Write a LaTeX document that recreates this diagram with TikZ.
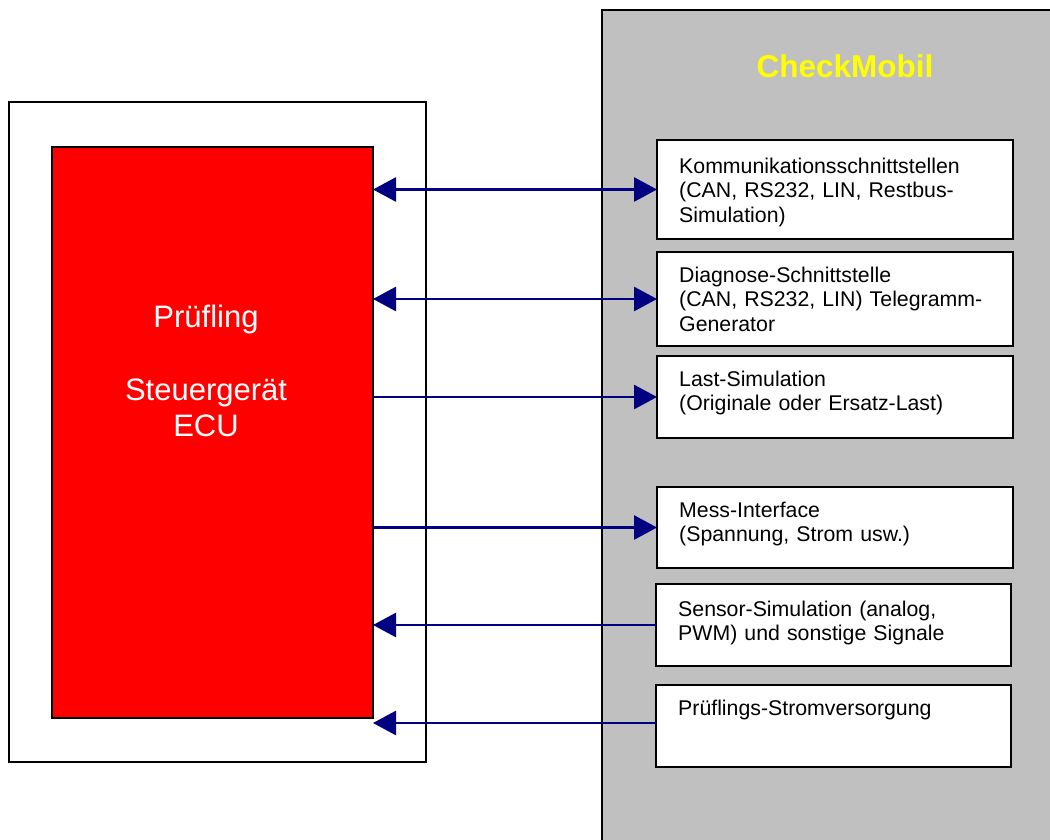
\documentclass[tikz,border=0pt]{standalone}
\usepackage{fontspec}
\setmainfont{Liberation Sans}
\usetikzlibrary{arrows.meta}
\definecolor{navyarrow}{RGB}{0,0,128}
\definecolor{panelgray}{RGB}{192,192,192}
\definecolor{ecured}{RGB}{255,0,0}
\definecolor{cmyellow}{RGB}{255,255,0}
\tikzset{>={Triangle[length=23pt,width=24pt]}}
\begin{document}
\begin{tikzpicture}[x=1pt,y=-1pt,
  modbox/.style={draw=black,line width=1.5pt,fill=white,minimum width=#1,inner sep=0pt,outer sep=0pt,anchor=north west},
  lbl/.style={anchor=base west,inner sep=0pt,text width=340pt,align=left,font=\fontsize{21.3}{24.5}\selectfont},
  link/.style={draw=navyarrow,line width=2.8pt}
]
\useasboundingbox (0,0) rectangle (1050,839);
% CheckMobil panel
\node[draw=black,line width=2pt,fill=panelgray,minimum width=470pt,minimum height=850pt,inner sep=0pt,outer sep=0pt,anchor=north west] (panel) at (602,10) {};
\node[font=\bfseries\fontsize{31.5}{36}\selectfont,text=cmyellow,anchor=base,inner sep=0pt] (title) at (845,77) {CheckMobil};
% DUT frame and ECU
\node[modbox=417pt,minimum height=660pt] (frame) at (9,102) {};
\node[modbox=321pt,minimum height=571pt,fill=ecured] (ecu) at (52,147) {};
\node[anchor=base,inner sep=0pt,text width=300pt,align=center,text=white,font=\fontsize{31}{36.5}\selectfont] (ecutext) at (206,327) {Prüfling\\[36.5pt]Steuergerät\\ECU};
% module boxes
\node[modbox=356pt,minimum height=99pt] (b1) at (657,140) {};
\node[modbox=356pt,minimum height=94pt] (b2) at (657,252) {};
\node[modbox=356pt,minimum height=82pt] (b3) at (657,356) {};
\node[modbox=356pt,minimum height=81pt] (b4) at (657,487) {};
\node[modbox=355pt,minimum height=82pt] (b5) at (656,584) {};
\node[modbox=355pt,minimum height=82pt] (b6) at (656,685) {};
\node[lbl] (t1) at (679,173.3) {Kommunikationsschnittstellen\\(CAN, RS232, LIN, Restbus-\\Simulation)};
\node[lbl] (t2) at (679,282) {Diagnose-Schnittstelle\\(CAN, RS232, LIN) Telegramm-\\Generator};
\node[lbl] (t3) at (679,386) {Last-Simulation\\(Originale oder Ersatz-Last)};
\node[lbl] (t4) at (679,517) {Mess-Interface\\(Spannung, Strom usw.)};
\node[lbl] (t5) at (678,616) {Sensor-Simulation (analog,\\PWM) und sonstige Signale};
\node[lbl] (t6) at (678,715) {Prüflings-Stromversorgung};
% connectors
\coordinate (b6in) at ([yshift=3pt]b6.west);
\draw[link,<->] (ecu.east |- b1.west) -- (b1.west);
\draw[link,<->] (ecu.east |- b2.west) -- (b2.west);
\draw[link,->] (ecu.east |- b3.west) -- (b3.west);
\draw[link,->] (ecu.east |- b4.west) -- (b4.west);
\draw[link,<-] (ecu.east |- b5.west) -- (b5.west);
\draw[link,<-] (ecu.east |- b6in) -- (b6in);
\end{tikzpicture}
\end{document}
